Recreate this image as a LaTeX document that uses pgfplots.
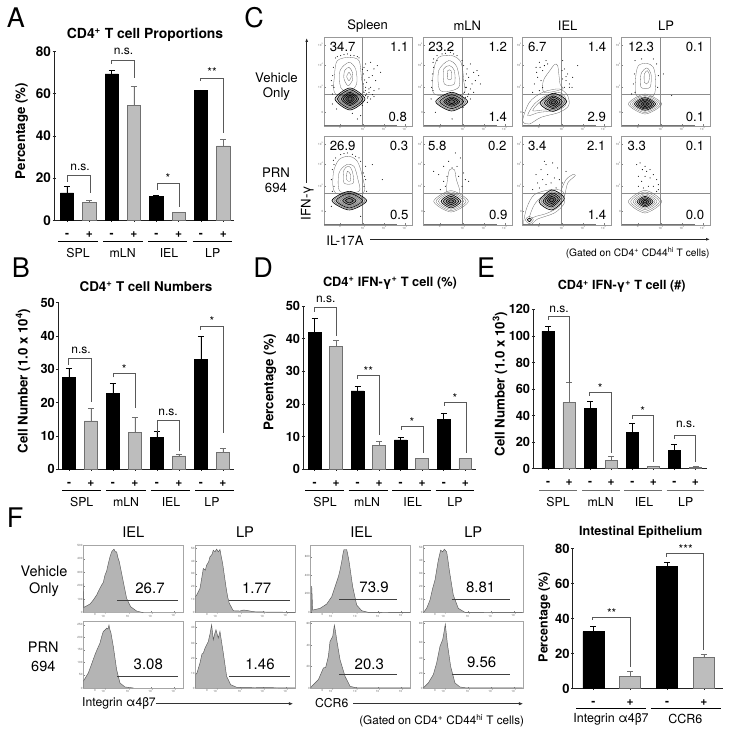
\documentclass[border=0pt]{standalone}
\usepackage{fontspec}
\setmainfont{TeX Gyre Heros}
\usepackage{pgfplots}
\pgfplotsset{compat=1.18}
\usetikzlibrary{arrows.meta}
\definecolor{barg}{HTML}{BDBDBD}
\definecolor{edg}{HTML}{707070}
\definecolor{axc}{HTML}{222222}
\definecolor{hist}{HTML}{B4B4B4}
\newcommand\fs[1]{\fontsize{#1}{#1}\selectfont}
\pgfplotsset{
 barax/.style={scale only axis,clip=false,axis lines=left,axis line style={-,axc,line width=.8pt},
  ymin=0,tick style={axc,line width=.7pt},tickwidth=3pt,
  /pgf/number format/assume math mode=true,
  yticklabel style={font=\fs{#1}\bfseries,inner sep=1.5pt},
  xticklabel style={font=\fs{12}\bfseries,text height=8pt,text depth=0pt,yshift=-4pt},
  ylabel style={anchor=center,font=\fs{13.3}\bfseries},
  title style={anchor=center,yshift=-7pt,font=\fs{13.4}\bfseries}},
 blk/.style={ybar,bar shift=0pt,fill=black,draw=black,line width=.5pt,
  error bars/y dir=plus,error bars/y explicit,error bars/error bar style={black,line width=.6pt},error bars/error mark options={black,line width=.6pt,mark size=3pt,rotate=90}},
 gry/.style={ybar,bar shift=0pt,fill=barg,draw=edg,line width=.8pt,
  error bars/y dir=plus,error bars/y explicit,error bars/error bar style={edg,line width=.7pt},error bars/error mark options={edg,line width=.7pt,mark size=3pt,rotate=90}},
 flow/.style={scale only axis,width=88.3pt,height=88.7pt,xmin=0,xmax=265,ymin=0,ymax=266,y dir=reverse,
  axis line style={black!40,line width=.45pt},tick style={black!50,line width=.25pt},tickwidth=1.5pt,
  xtick={48,118,181,243},ytick={23,83,148,225},
  xticklabels={0,10\textsuperscript{3},10\textsuperscript{4},10\textsuperscript{5}},
  yticklabels={10\textsuperscript{5},10\textsuperscript{4},10\textsuperscript{3},0},
  xtick pos=bottom,ytick pos=left,
  ticklabel style={font=\fs{3},text=black!60,inner sep=.6pt}},
 hax/.style={scale only axis,width=100pt,height=67.5pt,xmin=0,xmax=300,ymin=0,ymax=203,y dir=reverse,
  axis line style={black!35,line width=.5pt},tick style={black!50,line width=.25pt},tickwidth=1.5pt,
  xtick={35,62,135,203,272},
  xticklabels={0,10\textsuperscript{2},10\textsuperscript{3},10\textsuperscript{4},10\textsuperscript{5}},
  xtick pos=bottom,ytick pos=left,
  ticklabel style={font=\fs{3},text=black!60,inner sep=.6pt}},
 rl/.style={smooth cycle,no marks,draw=black!60,line width=.3pt},
 rd/.style={smooth cycle,no marks,draw=black,line width=.6pt,fill=black,fill opacity=.16},
 hf/.style={fill=hist,draw=black!65,line width=.45pt,no marks},
 gate/.style={no marks,draw=black!45,line width=.35pt},
 hgate/.style={no marks,draw=black!75,line width=.6pt},
 dotp/.style={only marks,mark=*,mark size=.24pt,mark options={draw=black,fill=black}},
}
\newcommand\Rl[1]{\addplot[rl] coordinates {#1};}
\newcommand\Rd[1]{\addplot[rd] coordinates {#1};}
\newcommand\Pts[1]{\addplot[dotp] coordinates {#1};}
\newcommand\Gates{\addplot[gate] coordinates {(116,0)(116,266)};\addplot[gate] coordinates {(0,171)(265,171)};\addplot[no marks,draw=black!55,line width=.5pt] coordinates {(0,265)(220,265)};}
\newcommand\br[5]{\draw[brk] (#1,#2)--(#1,#3)--(#4,#3)--(#4,#5);}
\newcommand\gl[3]{\draw[grp] (#1,#3)--(#2,#3);}
\tikzset{brk/.style={draw=black!65,line width=.75pt},grp/.style={draw=black,line width=.6pt},
 ns/.style={font=\fs{12}},st/.style={font=\fs{12}},lab/.style={font=\fs{12.3}},
 num/.style={font=\fs{13.2}},hnum/.style={font=\fs{15}},let/.style={font=\fs{27}}}
\begin{document}
\begin{tikzpicture}
\path[use as bounding box] (0,0) rectangle (729pt,733pt);
% ---------- A
\begin{axis}[barax=13.5,at={(54pt,512.7pt)},anchor=south west,width=180pt,height=168.6pt,ymax=80,
 xmin=-.582,xmax=7.478,ytick={0,20,40,60,80},xtick={0,...,7},xticklabels={{-},{+},{-},{+},{-},{+},{-},{+}},
 ylabel={Percentage (\%)},ylabel style={at={(axis description cs:-.179,.53)}},
 title={CD4\textsuperscript{+} T cell Proportions},title style={at={(axis description cs:.506,1.105)},font=\fs{13.9}\bfseries}]
\addplot[blk,bar width=13.3pt] coordinates {(0,13) +- (0,3) (2,69.5) +- (0,1.5) (4,11.5) +- (0,.5) (6,61.5) +- (0,.4)};
\addplot[gry,bar width=13.3pt] coordinates {(1,8.5) +- (0,1) (3,54.5) +- (0,9) (5,3.7) +- (0,.2) (7,35.3) +- (0,3)};
\end{axis}
% ---------- B
\begin{axis}[barax=12.8,at={(58pt,263.7pt)},anchor=south west,width=176.3pt,height=166.6pt,ymax=50,
 xmin=-.5,xmax=7.514,ytick={0,10,20,30,40,50},xtick={0,...,7},xticklabels={{-},{+},{-},{+},{-},{+},{-},{+}},
 ylabel={Cell Number (1.0 x 10\textsuperscript{4})},ylabel style={at={(axis description cs:-.1985,.53)}},
 title={CD4\textsuperscript{+} T cell Numbers},title style={at={(axis description cs:.499,1.1)}}]
\addplot[blk,bar width=13pt] coordinates {(0,27.5) +- (0,2.8) (2,22.7) +- (0,3) (4,9.5) +- (0,1.9) (6,33) +- (0,6.8)};
\addplot[gry,bar width=13pt] coordinates {(1,14.5) +- (0,3.8) (3,11) +- (0,4.5) (5,4) +- (0,.5) (7,5) +- (0,1.3)};
\end{axis}
% ---------- D
\begin{axis}[barax=12.8,at={(303.3pt,263.7pt)},anchor=south west,width=172.7pt,height=163.3pt,ymax=50,
 xmin=-.5239,xmax=7.497,ytick={0,10,20,30,40,50},xtick={0,...,7},xticklabels={{-},{+},{-},{+},{-},{+},{-},{+}},
 ylabel={Percentage (\%)},ylabel style={at={(axis description cs:-.193,.5315)}},
 title={CD4\textsuperscript{+} IFN-γ\textsuperscript{+} T cell (\%)},title style={at={(axis description cs:.502,1.147)},font=\fs{12.8}\bfseries}]
\addplot[blk,bar width=12.8pt] coordinates {(0,42) +- (0,4.2) (2,24) +- (0,1.3) (4,9) +- (0,.8) (6,15.2) +- (0,1.8)};
\addplot[gry,bar width=12.8pt] coordinates {(1,37.5) +- (0,2) (3,7.3) +- (0,1.3) (5,3.4) +- (0,.05) (7,3.3) +- (0,.05)};
\end{axis}
% ---------- E
\begin{axis}[barax=12.8,at={(533.3pt,264.3pt)},anchor=south west,width=173.4pt,height=159.4pt,ymax=120,
 xmin=-.698,xmax=7.532,ytick={0,20,40,60,80,100,120},xtick={0,...,7},xticklabels={{-},{+},{-},{+},{-},{+},{-},{+}},
 ylabel={Cell Number (1.0 x 10\textsuperscript{3})},ylabel style={at={(axis description cs:-.192,.531)}},
 title={CD4\textsuperscript{+} IFN-γ\textsuperscript{+} T cell (\#)},title style={at={(axis description cs:.51,1.1506)},font=\fs{12.6}\bfseries}]
\addplot[blk,bar width=12.2pt] coordinates {(0,103.4) +- (0,3.6) (2,45.5) +- (0,5.5) (4,27.4) +- (0,6.6) (6,13.8) +- (0,4.5)};
\addplot[gry,bar width=12.2pt] coordinates {(1,50) +- (0,15) (3,6) +- (0,3.3) (5,1.5) +- (0,.5) (7,1.2) +- (0,.4)};
\end{axis}
% ---------- F bars
\begin{axis}[barax=13,at={(572.7pt,44.3pt)},anchor=south west,width=150pt,height=140pt,ymax=80,
 xmin=-.5622,xmax=3.511,ytick={0,20,40,60,80},xtick={0,...,3},xticklabels={{-},{+},{-},{+}},
 ylabel={Percentage (\%)},ylabel style={at={(axis description cs:-.189,.512)},font=\fs{12.5}\bfseries},
 title={Intestinal Epithelium},title style={at={(axis description cs:.453,1.124)},font=\fs{12.6}\bfseries}]
\addplot[blk,bar width=21pt] coordinates {(0,32.6) +- (0,3) (2,70) +- (0,2.4)};
\addplot[gry,bar width=21pt] coordinates {(1,7.2) +- (0,2.5) (3,17.9) +- (0,1.7)};
\end{axis}
% ---------- C flow panels
\begin{axis}[flow,at={(324pt,607pt)},anchor=south west]
\Gates
\Pts{(120,90)(130,100)(140,75)(150,95)(135,120)(128,135)(145,115)(160,85)(170,105)(125,150)(140,150)(155,130)(120,165)(135,165)(150,160)(165,155)(125,175)(140,185)(150,178)(130,195)(115,205)(22,130)(28,90)(30,150)(25,170)(35,62)(50,55)(70,50)(90,55)(105,62)(25,200)(110,235)(100,245)(85,228)(118,110)(125,80)(38,215)(128,170)(132,178)(124,160)(146,172)(118,140)(122,128)(115,96)(26,115)(24,145)(40,58)(60,52)(80,54)(100,58)(130,182)(135,155)}
\Rl{(35,170)(32,110)(40,70)(75,60)(105,70)(112,120)(115,170)}
\Rl{(50,150)(48,100)(75,75)(95,95)(98,140)(75,165)}
\Rl{(60,125)(62,100)(75,90)(85,105)(85,130)(72,145)}
\Rl{(68,118)(75,105)(82,118)(75,130)}
\Rd{(123,185)(78,218)(33,185)(78,152)}\Rd{(116,185)(78,213)(40,185)(78,157)}\Rl{(110,185)(78,209)(46,185)(78,161)}
\Rd{(104,185)(78,205)(52,185)(78,165)}\Rd{(98,185)(78,201)(58,185)(78,169)}\Rd{(91,185)(78,196)(65,185)(78,174)}\Rd{(85,185)(78,192)(71,185)(78,178)}
\end{axis}
\begin{axis}[flow,at={(423.7pt,607pt)},anchor=south west]
\Gates
\Pts{(130,95)(140,80)(150,105)(125,130)(135,120)(160,100)(128,150)(140,155)(155,130)(170,140)(122,165)(135,170)(150,165)(30,90)(25,130)(28,160)(40,55)(55,50)(80,45)(100,55)(115,70)(125,180)(118,210)(85,245)(35,225)(22,185)(165,115)(40,70)(120,85)(26,110)(24,150)(28,75)(30,65)(65,48)(90,50)(128,110)(125,150)(132,178)(140,185)(145,140)}
\Rl{(32,170)(30,100)(45,60)(85,55)(112,75)(120,130)(118,170)}
\Rl{(50,160)(45,100)(75,70)(100,90)(105,150)}
\Rl{(62,140)(60,95)(78,85)(92,100)(92,140)}
\Rl{(72,125)(72,100)(82,100)(83,125)}
\Rd{(132,193)(84,221)(36,193)(84,165)}\Rl{(126,193)(84,218)(42,193)(84,168)}\Rd{(120,193)(84,214)(48,193)(84,172)}\Rl{(114,193)(84,210)(54,193)(84,176)}
\Rd{(108,193)(84,207)(60,193)(84,179)}\Rd{(102,193)(84,203)(66,193)(84,183)}\Rd{(94,193)(84,199)(74,193)(84,187)}
\end{axis}
\begin{axis}[flow,at={(522.7pt,607pt)},anchor=south west]
\Gates
\Pts{(40,90)(50,75)(60,100)(45,120)(55,130)(70,70)(35,140)(60,150)(120,70)(125,95)(135,110)(150,120)(130,130)(140,140)(165,85)(120,125)(50,160)(30,165)(148,150)(125,150)(42,105)(52,90)(65,85)(75,80)(118,100)(130,118)(140,150)}
\Rl{(0,250)(20,195)(60,165)(110,155)(135,175)(138,205)(110,225)(55,240)(20,260)}
\Rl{(15,235)(35,200)(70,175)(110,165)(128,180)(128,205)(100,220)(50,225)}
\Rl{(30,220)(50,195)(80,178)(115,172)(125,195)(100,215)(60,218)}
\Rl{(65,165)(62,130)(85,95)(95,82)(105,85)(112,140)(120,155)}
\Rd{(132,192)(92,222)(52,198)(92,168)}\Rl{(125,192)(92,218)(59,198)(92,172)}\Rd{(119,193)(92,214)(65,197)(92,176)}
\Rd{(112,193)(92,210)(72,197)(92,180)}\Rd{(105,194)(92,205)(79,196)(92,185)}\Rd{(99,194)(92,200)(85,196)(92,190)}
\end{axis}
\begin{axis}[flow,at={(621.7pt,607pt)},anchor=south west]
\Gates
\Pts{(40,70)(38,110)(35,140)(40,165)(110,115)(105,80)(108,150)(125,110)(150,175)(95,65)(60,65)(30,170)}
\Rl{(45,175)(42,120)(50,85)(75,78)(95,90)(102,130)(95,175)}
\Rl{(58,150)(58,110)(75,92)(88,110)(85,150)}
\Rl{(68,135)(68,110)(77,100)(84,115)(80,135)(74,140)}
\Rl{(120,200)(70,230)(20,200)(70,170)}\Rl{(114,200)(70,226)(26,200)(70,174)}\Rl{(108,200)(70,222)(32,200)(70,178)}\Rd{(102,200)(70,219)(38,200)(70,181)}
\Rd{(96,200)(70,215)(44,200)(70,185)}\Rd{(90,200)(70,212)(50,200)(70,188)}\Rd{(83,200)(70,208)(57,200)(70,192)}\Rd{(77,200)(70,204)(63,200)(70,196)}
\end{axis}
\begin{axis}[flow,at={(324pt,508pt)},anchor=south west]
\Gates
\Pts{(25,100)(22,130)(30,85)(35,65)(50,55)(70,50)(95,60)(110,75)(118,110)(125,130)(120,150)(128,165)(145,85)(175,130)(125,90)(30,150)(25,165)(110,240)(22,210)(28,72)(60,52)(85,54)(105,65)(122,120)}
\Rl{(35,170)(28,110)(45,70)(75,60)(100,75)(115,120)(118,170)}
\Rl{(48,165)(45,110)(68,85)(90,90)(102,130)(105,165)}
\Rl{(60,140)(60,100)(75,90)(85,105)(88,140)}
\Rl{(68,130)(70,105)(80,115)(78,135)}
\Rd{(128,193)(76,221)(24,193)(76,165)}\Rl{(122,193)(76,218)(30,193)(76,168)}\Rd{(116,193)(76,215)(36,193)(76,171)}\Rl{(110,193)(76,212)(42,193)(76,174)}
\Rl{(103,193)(76,209)(49,193)(76,177)}\Rd{(96,193)(76,205)(56,193)(76,181)}\Rd{(88,193)(76,200)(64,193)(76,186)}
\end{axis}
\begin{axis}[flow,at={(423.7pt,508pt)},anchor=south west]
\Gates
\Pts{(30,105)(45,115)(60,90)(75,75)(85,95)(100,90)(110,65)(95,50)(120,110)(125,130)(135,135)(60,135)(50,160)(65,150)(115,150)(70,120)(105,120)}
\Rl{(70,170)(72,125)(78,100)(92,100)(98,130)(108,170)}
\Rl{(134,195)(82,227)(30,195)(82,163)}\Rl{(127,195)(82,223)(37,195)(82,167)}\Rl{(120,195)(82,219)(44,195)(82,171)}
\Rd{(112,195)(82,215)(52,195)(82,175)}\Rd{(105,195)(82,210)(59,195)(82,180)}\Rd{(97,195)(82,205)(67,195)(82,185)}\Rd{(90,195)(82,200)(74,195)(82,190)}
\end{axis}
\begin{axis}[flow,at={(522.7pt,508pt)},anchor=south west]
\Gates
\Pts{(40,115)(55,100)(70,85)(90,80)(105,95)(45,140)(60,130)(75,115)(95,125)(110,130)(50,155)(70,145)(30,160)(120,140)(85,140)(130,105)(100,155)(65,75)}
\Rl{(3,265)(12,215)(35,175)(85,160)(120,165)(125,200)(95,230)(45,248)(25,265)}
\Rl{(20,245)(35,205)(60,180)(95,170)(115,180)(110,210)(75,230)(40,240)}
\Rl{(115,165)(130,130)(150,115)(158,118)(135,140)(125,180)}
\Rl{(8,250)(20,240)(32,250)(20,262)}\Rd{(14,250)(20,246)(26,250)(20,256)}
\Rd{(125,186)(87,221)(49,196)(87,161)}\Rl{(119,187)(87,216)(55,195)(87,166)}\Rd{(113,187)(87,212)(61,195)(87,170)}
\Rd{(107,188)(87,207)(67,194)(87,175)}\Rd{(100,189)(87,202)(74,193)(87,180)}\Rd{(94,190)(87,197)(80,192)(87,185)}
\end{axis}
\begin{axis}[flow,at={(621.7pt,508pt)},anchor=south west]
\Gates
\Pts{(45,85)(55,80)(70,90)(85,100)(50,120)(60,135)(70,120)(85,125)(95,115)(105,130)(110,145)(50,150)(65,155)(80,150)(95,150)(110,160)(105,165)(75,105)(62,100)}
\Rl{(120,196)(70,230)(20,196)(70,162)}\Rl{(113,196)(70,225)(27,196)(70,167)}\Rl{(106,196)(70,220)(34,196)(70,172)}\Rl{(100,196)(70,216)(40,196)(70,176)}
\Rd{(94,196)(70,212)(46,196)(70,180)}\Rd{(88,196)(70,208)(52,196)(70,184)}\Rd{(82,196)(70,204)(58,196)(70,188)}\Rd{(76,196)(70,200)(64,196)(70,192)}
\end{axis}
% ---------- F histograms
\begin{axis}[hax,at={(83.3pt,120.3pt)},anchor=south west,ytick={0,41,82,122,162,202},yticklabels={500,400,300,200,100,0}]
\addplot[hf] coordinates {(0,203)(0,115)(2,187)(20,177)(30,165)(40,150)(48,133)(55,120)(60,112)(65,90)(70,78)(75,55)(80,35)(85,20)(88,16)(92,12)(96,20)(100,20)(104,38)(108,50)(113,75)(118,100)(124,130)(130,160)(142,185)(160,198)(180,203)};
\addplot[hgate] coordinates {(102,166)(285,166)};
\end{axis}
\begin{axis}[hax,at={(195.3pt,120.3pt)},anchor=south west,ytick={10,48,86,124,162,202},yticklabels={50,40,30,20,10,0}]
\addplot[hf] coordinates {(0,203)(0,155)(4,150)(14,130)(20,95)(24,70)(30,75)(34,60)(40,50)(44,35)(50,28)(54,15)(59,20)(64,12)(69,20)(74,13)(78,35)(82,55)(87,90)(92,125)(97,155)(102,175)(114,197)(134,198)(144,195)(154,196)(174,200)(214,201)(299,202)};
\addplot[hgate] coordinates {(102,166)(284,166)};
\end{axis}
\begin{axis}[hax,at={(310.7pt,120.3pt)},anchor=south west,ytick={35,90,145,202},yticklabels={600,400,200,0}]
\addplot[hf] coordinates {(0,203)(3,203)(3,123)(6,195)(28,190)(48,177)(63,155)(73,125)(83,95)(88,75)(93,50)(97,25)(100,13)(108,13)(112,32)(116,55)(126,125)(138,180)(153,197)(173,202)(298,203)};
\addplot[hgate] coordinates {(85,162)(260,162)};
\end{axis}
\begin{axis}[hax,at={(423.3pt,120.3pt)},anchor=south west,ytick={8,47,85,123,162,202},yticklabels={50,40,30,20,10,0}]
\addplot[hf] coordinates {(0,203)(10,190)(20,165)(28,130)(35,105)(40,75)(45,45)(52,15)(58,20)(63,12)(70,20)(74,45)(78,75)(90,150)(105,190)(125,202)(298,203)};
\addplot[hgate] coordinates {(85,162)(260,162)};
\end{axis}
\begin{axis}[hax,at={(83.3pt,44.7pt)},anchor=south west,ytick={12,49,87,124,162,202},yticklabels={250,200,150,100,50,0}]
\addplot[hf] coordinates {(0,202)(0,182)(15,157)(25,130)(35,102)(42,85)(50,67)(55,48)(60,32)(65,28)(70,22)(74,25)(77,13)(80,28)(83,37)(90,77)(100,147)(110,187)(125,199)(150,202)};
\addplot[hgate] coordinates {(102,166)(285,166)};
\end{axis}
\begin{axis}[hax,at={(195.3pt,44.7pt)},anchor=south west,ytick={20,67,112,157,202},yticklabels={40,30,20,10,0}]
\addplot[hf] coordinates {(0,202)(0,160)(4,160)(14,127)(20,100)(24,97)(30,80)(39,62)(44,40)(49,12)(54,57)(58,40)(62,27)(69,52)(74,32)(84,97)(94,167)(106,192)(124,200)(299,202)};
\addplot[hgate] coordinates {(102,166)(285,166)};
\end{axis}
\begin{axis}[hax,at={(310.7pt,44.7pt)},anchor=south west,ytick={7,74,137,202},yticklabels={60,40,20,0}]
\addplot[hf] coordinates {(0,202)(3,197)(23,177)(38,142)(45,140)(53,107)(58,62)(66,47)(71,13)(74,30)(78,57)(88,117)(103,167)(118,197)(138,202)(298,202)};
\addplot[hgate] coordinates {(85,162)(260,162)};
\end{axis}
\begin{axis}[hax,at={(423.3pt,44.7pt)},anchor=south west,ytick={7,65,114,157,202},yticklabels={80,60,40,20,0}]
\addplot[hf] coordinates {(0,202)(15,187)(30,162)(40,127)(50,77)(58,57)(62,35)(66,10)(72,67)(82,137)(95,187)(110,199)(130,202)(298,202)};
\addplot[hgate] coordinates {(85,162)(260,162)};
\end{axis}
% ---------- annotations in image pixels
\begin{scope}[shift={(0pt,733pt)},x=1pt,y=-1pt]
\node[let] at (16,18) {A};\node[let] at (254,18) {C};\node[let] at (21,268) {B};\node[let] at (263,268) {D};\node[let] at (486,268) {E};\node[let] at (15,518) {F};
% A
\br{67.7}{181.7}{175}{90.3}{192.7}\br{111}{64}{60}{134}{78}\br{157}{190}{183.5}{179.7}{207}\br{200.7}{81}{78}{223.7}{133}
\node[ns] at (80,167) {n.s.};\node[ns] at (123.5,51) {n.s.};\node[st] at (168,178) {*};\node[st] at (212,72) {**};
\gl{58}{97.7}{241}\gl{103.3}{142.7}{241}\gl{148}{187.3}{241}\gl{192.7}{232}{241}
\node[lab] at (78,253) {SPL};\node[lab] at (122.7,253) {mLN};\node[lab] at (169,253) {IEL};\node[lab] at (212.7,253) {LP};
% B
\br{68.3}{365}{358.7}{91}{401.7}\br{113.3}{377.3}{373.3}{135.7}{408.3}\br{157}{432.3}{420.3}{179.7}{450.7}\br{200.3}{330}{326}{223}{432.7}
\node[ns] at (81,350) {n.s.};\node[st] at (124.3,369) {*};\node[ns] at (168,412) {n.s.};\node[st] at (212,321) {*};
\gl{62}{101}{490}\gl{106.3}{145.7}{490}\gl{150.7}{190}{490}\gl{195}{234}{490}
\node[lab] at (81.7,502) {SPL};\node[lab] at (126,502) {mLN};\node[lab] at (171,502) {IEL};\node[lab] at (212,502) {LP};
% D
\br{314.3}{311.7}{307.7}{336.7}{336}\br{357.7}{379}{375.3}{379.3}{435}\br{401}{430}{426.7}{423}{452.7}\br{444}{406}{402.3}{466}{452.7}
\node[ns] at (325.7,299) {n.s.};\node[st] at (368.3,371) {**};\node[st] at (412,422) {*};\node[st] at (455,397.7) {*};
\gl{305.3}{344}{490}\gl{348.7}{387.7}{490}\gl{392.3}{431.3}{490}\gl{435.7}{474.3}{490}
\node[lab] at (325,502) {SPL};\node[lab] at (367,502) {mLN};\node[lab] at (412.7,502) {IEL};\node[lab] at (455,502) {LP};
% E
\br{548}{320}{316}{569.3}{383.3}\br{589.7}{396}{392}{611.3}{452.7}\br{632}{419}{415}{653.3}{461.7}\br{674.3}{439}{435}{695.7}{461.7}
\node[ns] at (559,309) {n.s.};\node[st] at (600.3,387.7) {*};\node[st] at (642.7,410.7) {*};\node[ns] at (685.7,424.7) {n.s.};
\begin{scope}[grp/.style={draw=edg,line width=1pt}]
\gl{539.3}{577.3}{490.7}\gl{582}{620}{490.7}\gl{624.3}{661.7}{490.7}\gl{666.7}{704}{490.7}
\end{scope}
\node[lab] at (558,502) {SPL};\node[lab] at (600.7,502) {mLN};\node[lab] at (644,502) {IEL};\node[lab] at (685.7,502) {LP};
% F bars
\br{592.3}{620}{617}{630.7}{666.7}\br{666}{556.7}{553.3}{703.7}{650}
\node[st] at (611.7,613.3) {**};\node[st] at (685.7,549.3) {***};
\gl{576}{645.7}{708.3}\gl{650.7}{721}{708.3}
\node[font=\fs{12.5}] at (611,719.3) {Integrin α4β7};\node[font=\fs{12.5}] at (685.3,719.3) {CCR6};
% C labels
\foreach \x/\t in {367.7/Spleen,467.3/mLN,567.7/IEL,666/LP}{\node[font=\fs{13}] at (\x,26) {\t};}
\node[num] at (276.5,78) {Vehicle};\node[num] at (276.5,94) {Only};\node[num] at (276,172.7) {PRN};\node[num] at (276,188.3) {694};
\foreach \x/\y/\t in {342.7/46.7/34.7,399.3/46.7/1.1,397.7/116.7/0.8,342.7/145.7/26.9,399/145.7/0.3,399.3/215/0.5,
 441.3/46.7/23.2,497.7/46.7/1.2,497.7/116.7/1.4,437.3/145.7/5.8,497.3/145.7/0.2,498.3/215/0.9,
 537.3/46.7/6.7,597/46.7/1.4,596.7/116.7/2.9,537.3/145.7/3.4,596.3/145.7/2.1,597/215/1.4,
 641/46.7/12.3,695/46.7/0.1,695/116.7/0.1,636.7/145.7/3.3,695/145.7/0.1,695/215/0.0}{\node[num] at (\x,\y) {\t};}
\draw[-{Latex[length=4pt,width=3pt]},black!85,line width=.8pt] (306.7,183)--(306.7,38);
\node[num,rotate=90] at (307.3,203) {IFN-γ};
\node[num] at (345,240.7) {IL-17A};
\draw[-{Latex[length=4pt,width=3pt]},black!85,line width=.8pt] (370,239.3)--(710,239.3);
\node[font=\fs{10.2}] at (637.7,252.7) {(Gated on CD4\textsuperscript{+} CD44\textsuperscript{hi} T cells)};
% F labels
\foreach \x/\t in {133.3/IEL,245/LP,361.3/IEL,473.3/LP}{\node[font=\fs{14.7}] at (\x,531.7) {\t};}
\node[font=\fs{14.5}] at (44,571.3) {Vehicle};\node[font=\fs{14.5}] at (44,589.3) {Only};\node[font=\fs{14.5}] at (43.3,647.7) {PRN};\node[font=\fs{14.5}] at (43.3,666) {694};
\foreach \x/\y/\t in {150/588.3/26.7,256.7/588.3/1.77,374/587.3/73.9,480.7/587.3/8.81,148.3/664/3.08,260/664/1.46,369.3/664/20.3,481.7/662.7/9.56}{\node[hnum] at (\x,\y) {\t};}
\node[font=\fs{12.2}] at (119,703.7) {Integrin α4β7};
\draw[-{Latex[length=4.5pt,width=3.5pt]},black!80,line width=1.3pt] (155.5,703.7)--(293.3,703.7);
\node[font=\fs{12.2}] at (331.7,703.3) {CCR6};
\draw[-{Latex[length=4.5pt,width=3.5pt]},black!80,line width=1.3pt] (353.3,703.7)--(523.3,703.7);
\node[font=\fs{11.7}] at (441.7,720.7) {(Gated on CD4\textsuperscript{+} CD44\textsuperscript{hi} T cells)};
\end{scope}
\end{tikzpicture}
\end{document}
